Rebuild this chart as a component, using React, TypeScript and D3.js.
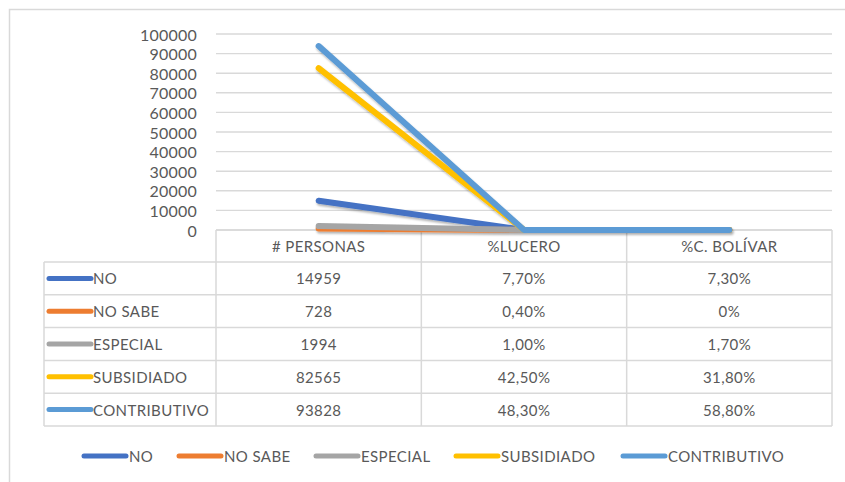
import React from "react";
import * as d3 from "d3";

const categories = ["# PERSONAS", "%LUCERO", "%C. BOLÍVAR"];
const seriesNames = ["NO", "NO SABE", "ESPECIAL", "SUBSIDIADO", "CONTRIBUTIVO"];
const seriesColors = ["#4472C4", "#ED7D31", "#A5A5A5", "#FFC000", "#5B9BD5"];
const personas = [14959, 728, 1994, 82565, 93828];
const lucero = [7.7, 0.4, 1.0, 42.5, 48.3];
const bolivar = [7.3, 0, 1.7, 31.8, 58.8];
const yTicks = [0, 10000, 20000, 30000, 40000, 50000, 60000, 70000, 80000, 90000, 100000];

const W = 845;
const H = 482;
const FONT = "Lato, 'Open Sans', sans-serif";
const TXT = "#595959";
const GRID = "#D9D9D9";

const fmtPct = (v: number) => (v === 0 ? "0%" : v.toFixed(2).replace(".", ",") + "%");

export default function App() {
  const plotLeft = 216;
  const plotRight = 832;
  const plotTop = 34;
  const plotBottom = 230;
  const y = d3.scaleLinear().domain([0, 100000]).range([plotBottom, plotTop]);
  const xBand = d3.scaleBand<string>().domain(categories).range([plotLeft, plotRight]);
  const xc = (c: string) => (xBand(c) as number) + xBand.bandwidth() / 2;

  const series = seriesNames.map((name, i) => ({
    name,
    color: seriesColors[i],
    values: [personas[i], lucero[i], bolivar[i]],
    labels: [String(personas[i]), fmtPct(lucero[i]), fmtPct(bolivar[i])],
  }));

  const line = d3
    .line<number>()
    .x((_, i) => xc(categories[i]))
    .y((d) => y(d));

  const headerH = 32;
  const rowH = 32.8;
  const tableLeft = 44;
  const rowTop = (i: number) => plotBottom + headerH + i * rowH;
  const tableBottom = rowTop(seriesNames.length);

  const legendY = 456;
  const legendItems = [{ x: 83 }, { x: 178 }, { x: 315 }, { x: 455 }, { x: 622 }];
  const LS = 0.4;

  return (
    <svg
      width={W}
      height={H}
      style={{ position: "fixed", left: 0, top: 0, background: "#fff" }}
      fontFamily={FONT}
    >
      <defs>
        <filter id="sh" x="-10%" y="-10%" width="120%" height="130%">
          <feDropShadow dx="1" dy="2" stdDeviation="1.2" floodColor="#000" floodOpacity="0.3" />
        </filter>
      </defs>
      <rect x={0} y={0} width={W} height={H} fill="#fff" />
      <rect x={9.5} y={9.5} width={1000} height={1000} fill="none" stroke={GRID} strokeWidth={1.5} />

      {yTicks.map((t) => (
        <line key={t} x1={plotLeft} x2={plotRight} y1={y(t)} y2={y(t)} stroke={GRID} strokeWidth={1.4} />
      ))}
      {yTicks.map((t) => (
        <text
          key={"l" + t}
          x={197}
          y={y(t)}
          textAnchor="end"
          dominantBaseline="central"
          fontSize={16}
          letterSpacing={0.2}
          fill={TXT}
        >
          {t}
        </text>
      ))}

      <g stroke={GRID} strokeWidth={1.5} fill="none">
        <line x1={plotLeft} x2={plotRight} y1={plotBottom} y2={plotBottom} />
        {seriesNames.map((_, i) => (
          <line key={i} x1={tableLeft} x2={plotRight} y1={rowTop(i)} y2={rowTop(i)} />
        ))}
        <line x1={tableLeft} x2={plotRight} y1={tableBottom} y2={tableBottom} />
        <line x1={tableLeft} x2={tableLeft} y1={rowTop(0)} y2={tableBottom} />
        {categories.map((c) => (
          <line key={c} x1={xBand(c)} x2={xBand(c)} y1={plotBottom} y2={tableBottom} />
        ))}
        <line x1={plotRight} x2={plotRight} y1={plotBottom} y2={tableBottom} />
      </g>
      {categories.map((c) => (
        <text
          key={"h" + c}
          x={xc(c)}
          y={plotBottom + headerH / 2}
          textAnchor="middle"
          dominantBaseline="central"
          fontSize={15}
          letterSpacing={LS}
          fill={TXT}
        >
          {c}
        </text>
      ))}
      {series.map((s, i) => (
        <g key={"r" + s.name}>
          <line
            x1={49}
            x2={91}
            y1={rowTop(i) + rowH / 2}
            y2={rowTop(i) + rowH / 2}
            stroke={s.color}
            strokeWidth={5}
            strokeLinecap="round"
          />
          <text
            x={93}
            y={rowTop(i) + rowH / 2}
            dominantBaseline="central"
            fontSize={15}
            letterSpacing={LS}
            fill={TXT}
          >
            {s.name}
          </text>
          {s.labels.map((lab, j) => (
            <text
              key={j}
              x={xc(categories[j])}
              y={rowTop(i) + rowH / 2}
              textAnchor="middle"
              dominantBaseline="central"
              fontSize={15}
              letterSpacing={LS}
              fill={TXT}
            >
              {lab}
            </text>
          ))}
        </g>
      ))}

      <g filter="url(#sh)">
        {series.map((s) => (
          <path
            key={"p" + s.name}
            d={line(s.values) || ""}
            fill="none"
            stroke={s.color}
            strokeWidth={6}
            strokeLinecap="round"
            strokeLinejoin="round"
          />
        ))}
      </g>

      {series.map((s, i) => (
        <g key={"lg" + s.name}>
          <line
            x1={legendItems[i].x + 1}
            x2={legendItems[i].x + 43}
            y1={legendY}
            y2={legendY}
            stroke={s.color}
            strokeWidth={5}
            strokeLinecap="round"
          />
          <text
            x={legendItems[i].x + 46}
            y={legendY}
            dominantBaseline="central"
            fontSize={15}
            letterSpacing={LS}
            fill={TXT}
          >
            {s.name}
          </text>
        </g>
      ))}
    </svg>
  );
}
